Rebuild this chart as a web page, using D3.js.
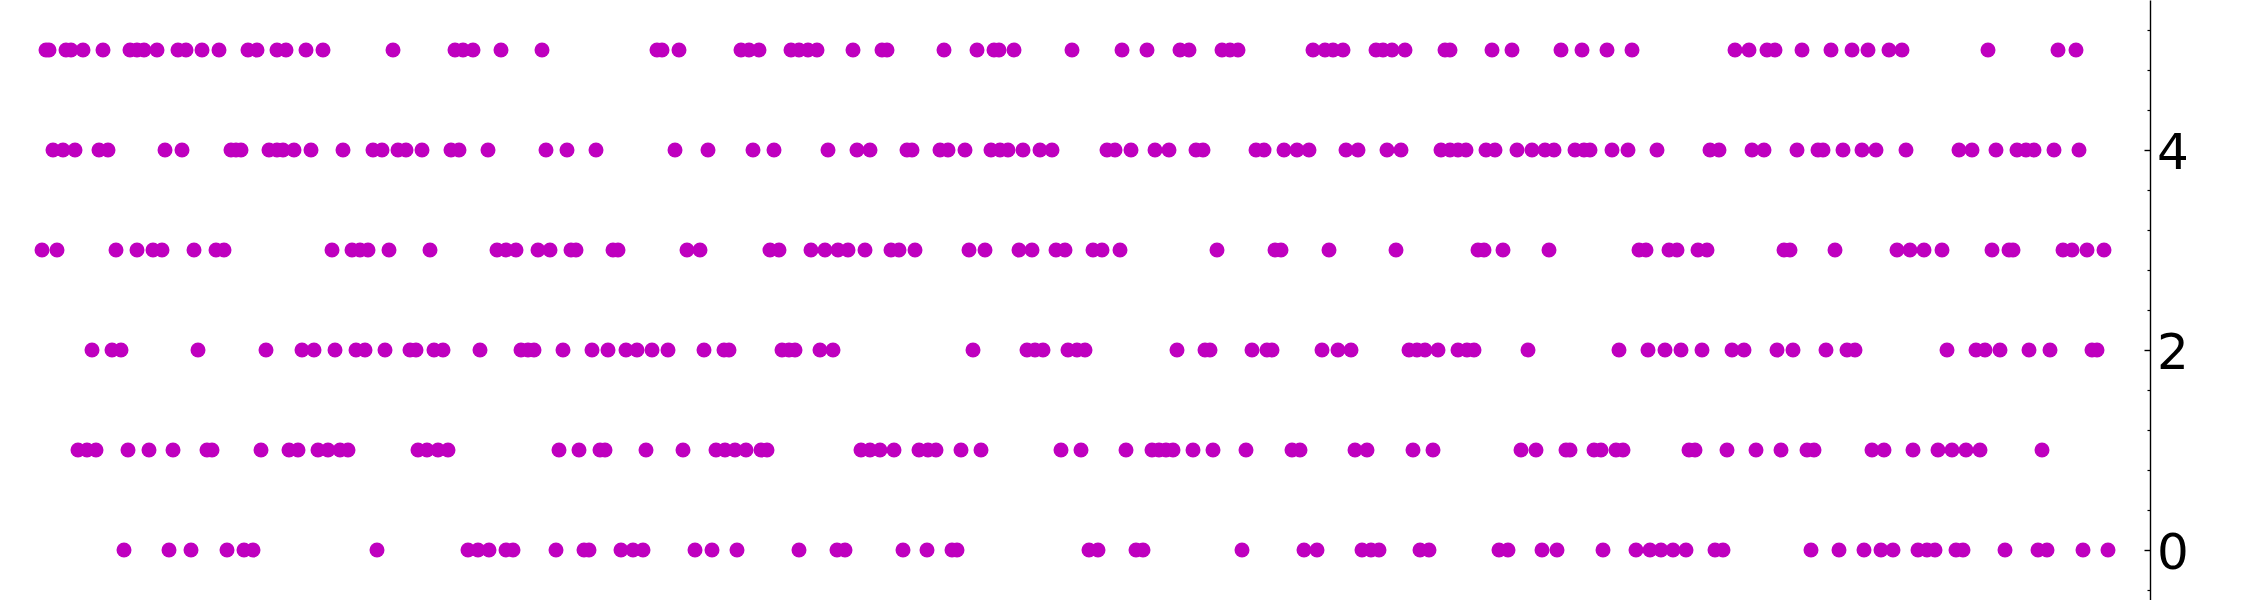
<!DOCTYPE html>
<html>
<head>
<meta charset="utf-8">
<script src="https://cdn.jsdelivr.net/npm/d3@7"></script>
<style>
  html, body { margin: 0; padding: 0; background: #ffffff; }
  svg { display: block; }
</style>
</head>
<body>
<svg id="chart" width="2250" height="600"></svg>
<script>
// Row categories (y values)
const rows = [0, 1, 2, 3, 4, 5];

// x positions of the events in each row
const row0 = [12.4, 16.9, 19.1, 22.7, 24.4, 25.3, 37.7, 46.8, 47.8, 48.9, 50.6, 51.3, 55.6, 58.4, 58.9, 62.1, 63.3, 64.3, 69.5, 71.2, 73.7, 79.9, 83.7, 84.5, 90.3, 92.7, 95.2, 95.7, 108.9, 109.8, 113.6, 114.3, 124.2, 130.4, 131.7, 136.2, 137.1, 137.9, 142.0, 142.9, 149.9, 150.8, 154.2, 155.7, 160.3, 163.6, 165.0, 166.1, 167.3, 168.6, 171.5, 172.3, 181.1, 183.9, 186.4, 188.1, 189.3, 191.8, 192.7, 193.5, 195.6, 196.3, 200.5, 203.8, 204.7, 208.3, 210.8];
const row1 = [7.8, 8.7, 9.6, 12.8, 14.9, 17.3, 20.7, 21.2, 26.1, 28.9, 29.8, 31.8, 32.8, 34.0, 34.8, 41.8, 42.7, 43.8, 44.8, 55.9, 57.9, 60.0, 60.5, 64.6, 68.3, 71.6, 72.5, 73.5, 74.6, 76.1, 76.7, 86.1, 87.0, 88.0, 89.4, 91.9, 92.8, 93.6, 96.1, 98.1, 106.1, 108.1, 112.6, 115.2, 115.9, 116.6, 117.3, 119.3, 121.3, 124.6, 129.2, 130.0, 135.5, 136.7, 141.3, 143.3, 152.1, 153.6, 156.6, 157.0, 159.4, 160.1, 161.6, 162.3, 168.9, 169.5, 172.7, 175.6, 178.1, 180.7, 181.4, 187.2, 188.4, 191.3, 193.8, 195.2, 196.6, 198.0, 204.2];
const row2 = [9.2, 11.2, 12.1, 19.8, 26.6, 30.2, 31.4, 33.5, 35.6, 36.5, 38.5, 41.0, 41.6, 43.4, 44.3, 48.0, 52.1, 52.8, 53.4, 56.3, 59.2, 60.8, 62.6, 63.7, 65.2, 66.8, 70.4, 72.4, 72.9, 78.2, 78.9, 79.5, 82.0, 83.3, 97.3, 102.7, 103.5, 104.3, 106.8, 107.7, 108.5, 117.7, 120.5, 121.0, 125.2, 126.7, 127.2, 132.2, 133.8, 135.1, 140.9, 141.7, 142.5, 143.8, 145.8, 146.7, 147.4, 152.8, 161.9, 164.8, 166.5, 168.1, 170.2, 173.2, 174.4, 177.7, 179.3, 182.6, 184.7, 185.5, 194.7, 197.6, 198.5, 200.0, 202.9, 205.0, 209.2, 209.7];
const row3 = [4.2, 5.7, 11.6, 13.7, 15.3, 16.2, 19.4, 21.6, 22.4, 33.2, 35.2, 36.0, 36.8, 38.9, 43.0, 49.7, 50.6, 51.6, 53.8, 55.0, 57.1, 57.6, 61.3, 61.8, 68.7, 70.0, 77.0, 77.9, 81.1, 82.5, 83.8, 84.8, 86.5, 89.1, 89.9, 91.5, 96.9, 98.5, 101.9, 103.2, 105.6, 106.5, 109.3, 110.2, 112.0, 121.7, 127.5, 128.1, 132.9, 139.6, 147.8, 148.4, 150.3, 154.9, 163.9, 164.6, 166.9, 167.7, 169.8, 170.7, 178.4, 179.0, 183.5, 189.7, 191.0, 192.4, 194.2, 199.2, 200.9, 201.3, 206.3, 207.2, 208.7, 210.4];
const row4 = [5.3, 6.3, 7.5, 9.9, 10.8, 16.5, 18.2, 23.1, 23.6, 24.1, 26.9, 27.7, 28.3, 29.4, 31.1, 34.3, 37.3, 38.2, 39.8, 40.6, 42.2, 45.1, 45.9, 48.8, 54.6, 56.7, 59.6, 67.5, 70.8, 75.3, 77.4, 82.8, 85.7, 87.0, 90.7, 91.2, 94.0, 94.8, 96.5, 99.1, 100.0, 100.8, 102.3, 104.0, 105.2, 110.7, 111.5, 113.1, 115.5, 116.9, 119.6, 120.3, 125.6, 126.4, 128.4, 129.7, 130.9, 134.6, 135.8, 138.7, 140.1, 144.1, 145.0, 145.8, 146.6, 148.6, 149.5, 151.7, 153.2, 154.5, 155.4, 157.5, 158.4, 159.0, 161.2, 162.8, 165.7, 171.0, 171.9, 175.2, 176.4, 179.7, 181.8, 182.3, 184.3, 186.2, 187.6, 190.6, 195.9, 197.2, 199.6, 201.7, 202.6, 203.4, 205.4, 207.9];
const row5 = [4.6, 4.9, 6.6, 7.1, 8.3, 10.3, 13.0, 13.7, 14.4, 15.7, 17.8, 18.6, 20.2, 21.9, 24.8, 25.7, 27.7, 28.6, 30.6, 32.3, 39.3, 45.5, 46.3, 47.3, 50.1, 54.2, 65.7, 66.2, 67.9, 74.1, 74.9, 75.9, 79.1, 79.9, 80.8, 81.7, 85.3, 88.2, 88.7, 94.4, 97.7, 99.4, 99.9, 101.4, 107.2, 112.2, 114.7, 118.0, 118.9, 122.2, 123.0, 123.8, 131.3, 132.5, 133.3, 134.3, 137.6, 138.3, 139.2, 140.5, 144.5, 145.0, 149.2, 151.2, 156.1, 158.2, 160.7, 163.2, 173.5, 174.9, 176.7, 177.5, 180.2, 183.1, 185.2, 186.8, 188.9, 190.2, 198.8, 205.8, 207.6];

// Axis ticks
const majorTicks = [0, 2, 4];
const minorTicks = [-0.4, 0.4, 0.8, 1.2, 1.6, 2.4, 2.8, 3.2, 3.6, 4.4, 4.8, 5.2];

const rowValues = [row0, row1, row2, row3, row4, row5];
const points = [];
rows.forEach((r, i) => rowValues[i].forEach(v => points.push({ x: v, y: r })));

const W = 2250, H = 600;
const svg = d3.select("#chart");

const x = d3.scaleLinear().domain([0, 225]).range([0, W]);
const y = d3.scaleLinear().domain([-0.5, 5.5]).range([H, 0]);
const axisX = x(215);
const color = "#bf00bf";

svg.append("g")
  .selectAll("circle")
  .data(points)
  .join("circle")
  .attr("cx", d => x(d.x))
  .attr("cy", d => y(d.y))
  .attr("r", 7.5)
  .attr("fill", color);

// minor ticks
svg.append("g")
  .attr("transform", `translate(${axisX},0)`)
  .call(d3.axisRight(y).tickValues(minorTicks).tickSize(-2.5).tickFormat(""))
  .call(g => g.select(".domain").remove())
  .call(g => g.selectAll(".tick line").attr("stroke", "#000").attr("stroke-width", 1.2));

// major ticks + spine
svg.append("g")
  .attr("transform", `translate(${axisX},0)`)
  .call(d3.axisRight(y).tickValues(majorTicks).tickSizeInner(-5.5).tickSizeOuter(0).tickPadding(7).tickFormat(d3.format("d")))
  .call(g => g.select(".domain").attr("stroke", "#000").attr("stroke-width", 1.4))
  .call(g => g.selectAll(".tick line").attr("stroke", "#000").attr("stroke-width", 1.4))
  .call(g => g.selectAll(".tick text")
    .attr("fill", "#000")
    .attr("font-family", "'DejaVu Sans', sans-serif")
    .attr("font-size", 50)
    .attr("dy", "0.36em"));
</script>
</body>
</html>
